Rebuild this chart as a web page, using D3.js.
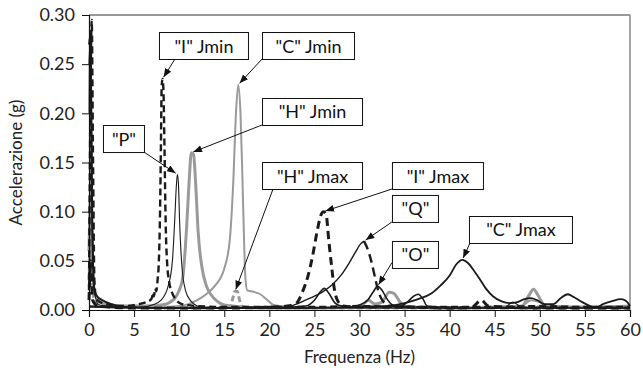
<!DOCTYPE html>
<html>
<head>
<meta charset="utf-8">
<script src="https://cdn.jsdelivr.net/npm/d3@7"></script>
<style>
  html, body { margin: 0; padding: 0; background: #fff; }
  svg { display: block; font-family: Lato, "Noto Sans", sans-serif; }
</style>
</head>
<body>
<svg id="chart" width="643" height="374"></svg>
<script>
// Axis ticks
const freqTicks = [0, 5, 10, 15, 20, 25, 30, 35, 40, 45, 50, 55, 60];
const accelTicks = [0, 0.05, 0.10, 0.15, 0.20, 0.25, 0.30];

// Spectra: [frequency Hz, acceleration g]
const iJmin = [[0,0.02],[0.15,0.2],[0.3,0.295],[0.45,0.15],[0.6,0.03],[0.8,0.012],[1.2,0.008],[2,0.006],[3,0.004],[4,0.004],[5,0.005],[6,0.007],[6.8,0.01],[7.0,0.013],[7.1,0.018],[7.2,0.014],[7.35,0.022],[7.45,0.019],[7.6,0.03],[7.75,0.05],[7.88,0.1],[7.98,0.17],[8.06,0.228],[8.15,0.235],[8.25,0.225],[8.38,0.16],[8.5,0.09],[8.65,0.05],[8.9,0.028],[9.2,0.018],[9.6,0.011],[10.3,0.006],[12,0.004],[15,0.003],[20,0.003],[25,0.003],[30,0.004],[35,0.003],[40,0.003],[45,0.003],[50,0.004],[55,0.003],[60,0.003]];
const pSpec = [[0,0.25],[0.2,0.285],[0.4,0.1],[0.6,0.02],[1,0.006],[2,0.003],[4,0.002],[6,0.003],[7,0.005],[8,0.01],[8.8,0.025],[9.25,0.05],[9.5,0.09],[9.68,0.125],[9.8,0.138],[9.92,0.128],[10.05,0.09],[10.3,0.045],[10.7,0.02],[11.3,0.009],[12,0.004],[13,0.002],[20,0.002],[30,0.002],[40,0.002],[46,0.002],[47,0.008],[48,0.003],[50,0.002],[60,0.002]];
const hJmin = [[0,0.06],[0.2,0.12],[0.4,0.04],[0.7,0.015],[1.5,0.008],[3,0.004],[6,0.004],[8,0.005],[9,0.008],[9.8,0.016],[10.4,0.033],[10.8,0.08],[11.1,0.13],[11.35,0.16],[11.6,0.158],[11.85,0.125],[12.1,0.08],[12.5,0.045],[13,0.025],[13.5,0.016],[14.2,0.009],[15,0.005],[17,0.003],[20,0.002],[25,0.002],[30,0.003],[31,0.01],[31.7,0.006],[32.5,0.008],[33.3,0.018],[33.8,0.017],[34.5,0.008],[35.5,0.003],[40,0.002],[45,0.003],[48,0.004],[48.8,0.015],[49.3,0.021],[49.8,0.015],[50.5,0.005],[52,0.003],[56,0.003],[60,0.004]];
const cJmin = [[0,0.2],[0.1,0.27],[0.3,0.05],[0.6,0.02],[1,0.012],[2,0.007],[4,0.004],[6,0.003],[8,0.003],[10,0.004],[11,0.006],[12,0.01],[13,0.016],[14,0.025],[15,0.042],[15.6,0.07],[16.0,0.13],[16.3,0.2],[16.55,0.229],[16.8,0.2],[17.0,0.14],[17.2,0.07],[17.35,0.032],[17.55,0.02],[18,0.019],[19,0.016],[19.8,0.01],[20.5,0.005],[22,0.003],[25,0.002],[30,0.002],[40,0.002],[48,0.004],[49,0.01],[50,0.008],[51,0.004],[60,0.002]];
const hJmax = [[0,0.03],[0.2,0.07],[0.4,0.02],[0.8,0.006],[3,0.003],[10,0.002],[15,0.002],[15.7,0.004],[15.95,0.012],[16.2,0.019],[16.45,0.019],[16.7,0.01],[17,0.003],[20,0.002],[30,0.002],[40,0.002],[50,0.003],[60,0.002]];
const iJmax = [[0,0.01],[0.2,0.05],[0.4,0.01],[1,0.004],[5,0.002],[15,0.002],[20,0.003],[22,0.004],[23,0.007],[23.7,0.019],[24.3,0.035],[24.8,0.055],[25.3,0.08],[25.7,0.096],[26.0,0.1],[26.3,0.097],[26.6,0.07],[26.9,0.045],[27.2,0.022],[27.6,0.009],[28.2,0.004],[30,0.003],[35,0.003],[40,0.002],[42.5,0.003],[43.5,0.01],[44.3,0.004],[50,0.002],[60,0.002]];
const qRise = [[0,0.003],[10,0.002],[20,0.002],[22,0.003],[23,0.006],[24,0.01],[25,0.014],[26,0.019],[27,0.026],[28,0.036],[28.8,0.047],[29.5,0.058],[30.1,0.067],[30.5,0.07]];
const qFall = [[30.5,0.07],[30.9,0.062],[31.3,0.05],[31.7,0.034],[32.0,0.022],[32.4,0.012],[32.8,0.007],[33.5,0.004],[36,0.003],[40,0.002],[50,0.002],[60,0.002]];
const oSpec = [[0,0.004],[10,0.002],[20,0.002],[24,0.004],[25,0.01],[25.7,0.019],[26.1,0.022],[26.6,0.017],[27.3,0.007],[28,0.004],[29,0.003],[30,0.005],[30.9,0.01],[31.5,0.018],[32,0.024],[32.5,0.02],[33,0.012],[33.7,0.005],[34.5,0.004],[35.3,0.008],[36,0.014],[36.5,0.016],[37,0.012],[37.5,0.004],[40,0.002],[50,0.002],[60,0.002]];
const cJmax = [[0,0.27],[0.15,0.28],[0.35,0.08],[0.6,0.02],[0.9,0.014],[1.5,0.01],[2.5,0.006],[4,0.003],[10,0.002],[20,0.002],[30,0.003],[33,0.004],[35,0.007],[36.5,0.011],[38,0.017],[39,0.025],[40,0.035],[40.7,0.046],[41.4,0.051],[42,0.048],[42.7,0.04],[43.3,0.032],[44,0.022],[44.8,0.014],[45.7,0.009],[46.7,0.007],[47.5,0.008],[48.3,0.011],[49,0.012],[49.7,0.01],[50.5,0.006],[51.5,0.006],[52.3,0.012],[53.1,0.016],[53.8,0.013],[54.7,0.008],[55.6,0.004],[56.3,0.003],[57,0.006],[58,0.009],[59,0.011],[59.6,0.009],[60,0.004]];

// Line styles, drawn back to front
const layers = [
  { data: hJmax, color: "#9a9a9a", width: 3,   dash: "6,3" },
  { data: cJmin, color: "#9a9a9a", width: 2,   dash: null },
  { data: hJmin, color: "#9a9a9a", width: 3,   dash: null },
  { data: pSpec, color: "#1a1a1a", width: 1.1, dash: null },
  { data: oSpec, color: "#1a1a1a", width: 1.6, dash: null },
  { data: cJmax, color: "#1a1a1a", width: 1.8, dash: null },
  { data: qRise, color: "#1a1a1a", width: 1.4, dash: null },
  { data: qFall, color: "#1a1a1a", width: 2.4, dash: "9,5" },
  { data: iJmax, color: "#1a1a1a", width: 3,   dash: "8,5" },
  { data: iJmin, color: "#1a1a1a", width: 2.4, dash: "7,4" }
];

// Callouts: box placed in data units (top-left), fixed pixel width,
// arrow from a point on the box edge to the series peak inside [lo, hi]
const callouts = [
  { text: '"I" Jmin',  data: iJmin, lo: 5,  hi: 12, bx: 7.76,  by: 0.2827, w: 89,  ax: 0.18, ay: 1 },
  { text: '"C" Jmin',  data: cJmin, lo: 14, hi: 19, bx: 19.19, by: 0.2827, w: 92,  ax: 0,    ay: 1 },
  { text: '"H" Jmin',  data: hJmin, lo: 10, hi: 13, bx: 19.19, by: 0.2156, w: 100, ax: 0,    ay: 1 },
  { text: '"H" Jmax',  data: hJmax, lo: 15, hi: 18, bx: 19.19, by: 0.1505, w: 100, ax: 0.11, ay: 1 },
  { text: '"P"',       data: pSpec, lo: 8,  hi: 12, bx: 1.55,  by: 0.1881, w: 41,  ax: 1,    ay: 1 },
  { text: '"I" Jmax',  data: iJmax, lo: 24, hi: 28, bx: 33.6,  by: 0.1505, w: 91,  ax: 0,    ay: 1 },
  { text: '"Q"',       data: qRise.concat(qFall), lo: 29, hi: 32, bx: 33.6, by: 0.117, w: 46, ax: 0, ay: 1 },
  { text: '"O"',       data: oSpec, lo: 31, hi: 33, bx: 33.6,  by: 0.0702, w: 46,  ax: 0,    ay: 0.8 },
  { text: '"C" Jmax',  data: cJmax, lo: 38, hi: 45, bx: 42.14, by: 0.0956, w: 103, ax: 0.01, ay: 1 }
];

const svg = d3.select("#chart");
const plotLeft = 89, plotRight = 630, plotTop = 15, plotBottom = 310;

const x = d3.scaleLinear().domain([0, 60]).range([plotLeft, plotRight]);
const y = d3.scaleLinear().domain([0, 0.30]).range([plotBottom, plotTop]);

// Plot frame (top and right edges)
svg.append("line").attr("x1", plotLeft).attr("x2", plotRight).attr("y1", plotTop).attr("y2", plotTop)
  .attr("stroke", "#333").attr("stroke-width", 1);
svg.append("line").attr("x1", plotRight).attr("x2", plotRight).attr("y1", plotTop).attr("y2", plotBottom)
  .attr("stroke", "#888").attr("stroke-width", 1.5);

// Spectra
const line = d3.line().x(d => x(d[0])).y(d => y(d[1])).curve(d3.curveMonotoneX);
const plot = svg.append("g");
layers.forEach(l => {
  plot.append("path")
    .attr("d", line(l.data))
    .attr("fill", "none")
    .attr("stroke", l.color)
    .attr("stroke-width", l.width)
    .attr("stroke-linejoin", "round")
    .attr("stroke-dasharray", l.dash);
});

// Axes
const xAxis = svg.append("g").attr("transform", `translate(0,${plotBottom})`)
  .call(d3.axisBottom(x).tickValues(freqTicks).tickSize(7).tickPadding(6).tickFormat(d3.format("d")));
const yAxis = svg.append("g").attr("transform", `translate(${plotLeft},0)`)
  .call(d3.axisLeft(y).tickValues(accelTicks).tickSize(7).tickPadding(7).tickFormat(d3.format(".2f")));
[xAxis, yAxis].forEach(a => {
  a.select(".domain").attr("stroke", "#111").attr("stroke-width", 1.2);
  a.selectAll(".tick line").attr("stroke", "#111");
  a.selectAll(".tick text").attr("fill", "#222").style("font-size", "18px")
    .style("font-family", "Lato, 'Noto Sans', sans-serif");
});

// Axis titles
svg.append("text").attr("x", (plotLeft + plotRight) / 2).attr("y", 363)
  .attr("text-anchor", "middle").attr("fill", "#222").style("font-size", "17px")
  .text("Frequenza (Hz)");
svg.append("text").attr("transform", `translate(22,${(plotTop + plotBottom) / 2}) rotate(-90)`)
  .attr("text-anchor", "middle").attr("fill", "#222").style("font-size", "17px")
  .text("Accelerazione (g)");

// Arrowhead
svg.append("defs").append("marker")
  .attr("id", "arrow").attr("viewBox", "0 0 10 8").attr("refX", 10).attr("refY", 4)
  .attr("markerWidth", 9).attr("markerHeight", 7).attr("orient", "auto")
  .attr("markerUnits", "userSpaceOnUse")
  .append("path").attr("d", "M0,0 L10,4 L0,8 Z").attr("fill", "#111");

// Callout boxes and arrows
const boxH = 27;
callouts.forEach(c => {
  const win = c.data.filter(d => d[0] >= c.lo && d[0] <= c.hi);
  const peak = win[d3.maxIndex(win, d => d[1])];
  const px = x(peak[0]), py = y(peak[1]);

  const bx = x(c.bx), by = y(c.by), w = c.w;
  const g = svg.append("g");
  g.append("rect").attr("x", bx + 0.5).attr("y", by + 0.5).attr("width", w).attr("height", boxH)
    .attr("fill", "#fff").attr("stroke", "#111").attr("stroke-width", 1);
  g.append("text").attr("x", bx + w / 2 + 0.5).attr("y", by + boxH / 2 + 7)
    .attr("text-anchor", "middle").attr("fill", "#111").style("font-size", "18px")
    .text(c.text);

  const sx = bx + c.ax * w, sy = by + c.ay * boxH;
  const dx = px - sx, dy = py - sy, len = Math.hypot(dx, dy);
  const ex = px - dx / len * 2, ey = py - dy / len * 2;
  svg.append("line").attr("x1", sx).attr("y1", sy).attr("x2", ex).attr("y2", ey)
    .attr("stroke", "#111").attr("stroke-width", 1).attr("marker-end", "url(#arrow)");
});
</script>
</body>
</html>
